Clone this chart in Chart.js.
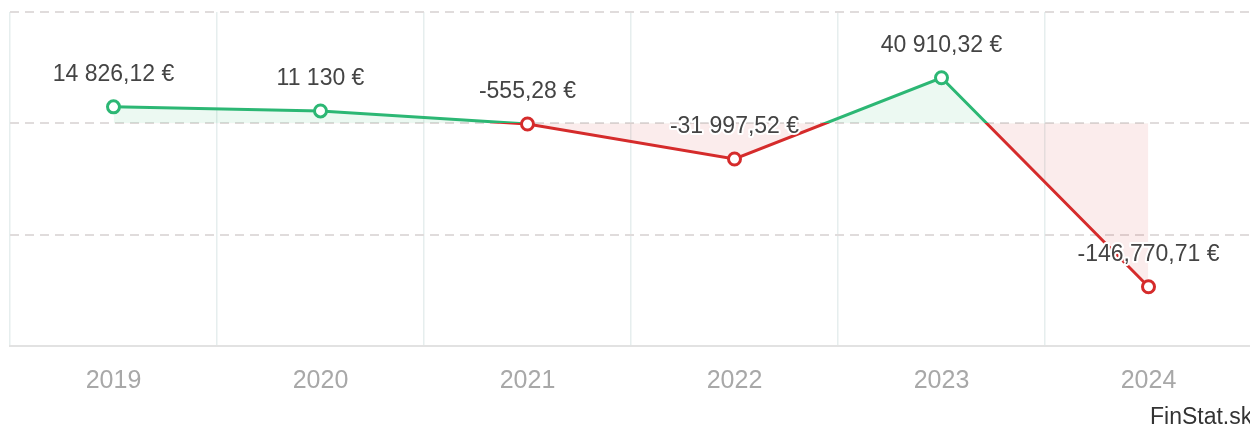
<!DOCTYPE html>
<html>
<head>
<meta charset="utf-8">
<script src="https://cdn.jsdelivr.net/npm/chart.js@4"></script>
<style>
  html, body { margin: 0; padding: 0; background: #fff; overflow: hidden; width: 1250px; height: 428px; }
  #wrap { position: relative; width: 1262px; height: 428px; }
  #credit { position: absolute; left: 1150px; top: 403px; font: 23px "Liberation Sans", Arial, sans-serif; color: #333; white-space: nowrap; }
</style>
</head>
<body>
<div id="wrap"><canvas id="c"></canvas></div>
<div id="credit">FinStat.sk</div>
<script>
const years = ["2019", "2020", "2021", "2022", "2023", "2024"];
const values = [14826.12, 11130, -555.28, -31997.52, 40910.32, -146770.71];
const valueLabels = ["14 826,12 €", "11 130 €", "-555,28 €", "-31 997,52 €", "40 910,32 €", "-146,770,71 €"];
const yMin = -200000, yMax = 100000, yStep = 100000;

const GREEN = "#2cb774";
const RED = "#d52b2b";
const GREEN_FILL = "rgba(44,183,116,0.09)";
const RED_FILL = "rgba(213,43,43,0.09)";

function splitGradient(ctx) {
  const chart = ctx.chart;
  const area = chart.chartArea;
  const ys = chart.scales.y;
  if (!area || !ys) return GREEN;
  const z = ys.getPixelForValue(0);
  const g = chart.ctx.createLinearGradient(0, area.top, 0, area.bottom);
  let t = (z - area.top) / (area.bottom - area.top);
  t = Math.min(1, Math.max(0, t));
  g.addColorStop(0, GREEN);
  g.addColorStop(t, GREEN);
  g.addColorStop(t, RED);
  g.addColorStop(1, RED);
  return g;
}

const labelPlugin = {
  id: 'valueLabels',
  afterDatasetsDraw(chart) {
    const ctx = chart.ctx;
    const meta = chart.getDatasetMeta(0);
    ctx.save();
    ctx.font = '23px "Liberation Sans", Arial, sans-serif';
    ctx.textAlign = 'center';
    ctx.textBaseline = 'middle';
    ctx.lineJoin = 'round';
    meta.data.forEach((pt, i) => {
      const x = pt.x, y = pt.y - 32;
      ctx.lineWidth = 4;
      ctx.strokeStyle = '#fff';
      ctx.strokeText(valueLabels[i], x, y);
      ctx.fillStyle = '#444';
      ctx.fillText(valueLabels[i], x, y);
    });
    ctx.restore();
  }
};

new Chart(document.getElementById('c'), {
  type: 'line',
  data: {
    labels: years,
    datasets: [{
      data: values,
      borderColor: splitGradient,
      borderWidth: 3,
      tension: 0,
      fill: { target: { value: 0 }, above: GREEN_FILL, below: RED_FILL },
      pointRadius: 6,
      pointHoverRadius: 6,
      pointBorderWidth: 3,
      pointBackgroundColor: '#fff',
      pointBorderColor: (c) => (c.raw >= 0 ? GREEN : RED)
    }]
  },
  options: {
    responsive: true,
    maintainAspectRatio: false,
    animation: false,
    layout: { padding: { left: 10, right: 10, top: 12, bottom: 12 } },
    plugins: { legend: { display: false }, tooltip: { enabled: false } },
    scales: {
      x: {
        offset: true,
        grid: { offset: true, color: '#e6eeee', lineWidth: 1.5, drawTicks: false },
        border: { display: true, color: '#e2e2e2', width: 2 },
        ticks: { color: '#a8a8a8', padding: 20, font: { size: 25, family: '"Liberation Sans", Arial, sans-serif' } }
      },
      y: {
        min: yMin, max: yMax,
        ticks: { display: false, stepSize: yStep },
        grid: {
          drawTicks: false,
          lineWidth: 2,
          color: (c) => (c.tick && c.tick.value === yMin ? 'rgba(0,0,0,0)' : '#e0dcdc')
        },
        border: { display: false, dash: [9, 6] }
      }
    }
  },
  plugins: [labelPlugin]
});
</script>
</body>
</html>
